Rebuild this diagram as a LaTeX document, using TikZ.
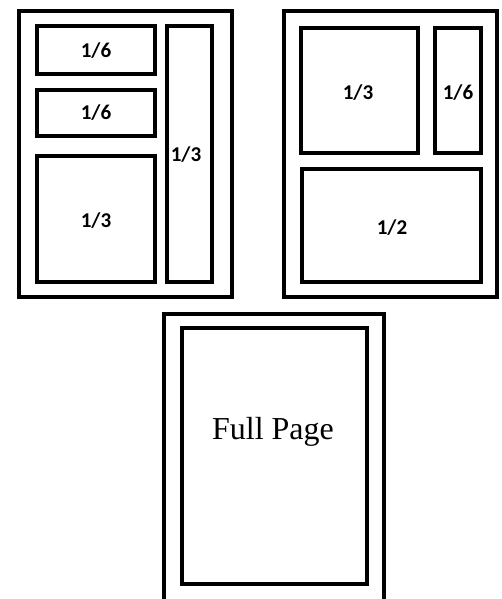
\documentclass[tikz,border=0pt]{standalone}
\usepackage{fontspec}
\setmainfont{Liberation Serif}
\newfontfamily\panelfont{Carlito}
\begin{document}
\begin{tikzpicture}[x=0.02cm,y=-0.02cm,
frame/.style={draw,line width=2.3pt},
share/.style={font=\panelfont\bfseries\fontsize{12}{14}\selectfont},
title/.style={font=\fontsize{18.2}{22}\selectfont}]
\useasboundingbox (0,0) rectangle (501,599);
\clip (0,0) rectangle (501,599);
% Pagina sinistra
\draw[frame] (19,11) rectangle (232,297);
\draw[frame] (37,26) rectangle (155,74);
\draw[frame] (37,90) rectangle (155,136);
\draw[frame] (37,156) rectangle (155,282);
\draw[frame] (167,26) rectangle (212,282);
\node[share] (l1) at (96,51) {1/6};
\node[share] (l2) at (96,113) {1/6};
\node[share] (l3) at (96,221) {1/3};
\node[share] (l4) at (186,155) {1/3};
% Pagina destra
\draw[frame] (284,11) rectangle (497,297);
\draw[frame] (301,28) rectangle (418,153);
\draw[frame] (435,28) rectangle (481,153);
\draw[frame] (302,169) rectangle (481,282);
\node[share] (r1) at (358,93) {1/3};
\node[share] (r2) at (458,93) {1/6};
\node[share] (r3) at (392,228) {1/2};
% Pagina intera
\draw[frame] (164,314) rectangle (384,620);
\draw[frame] (182,328) rectangle (367,584);
\node[title] (full) at (273,432) {Full Page};
\end{tikzpicture}
\end{document}
